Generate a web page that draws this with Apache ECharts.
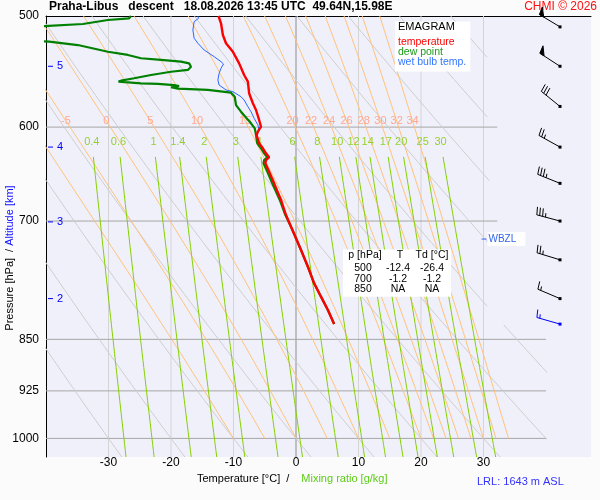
<!DOCTYPE html>
<html><head><meta charset="utf-8">
<script src="https://cdn.jsdelivr.net/npm/echarts@6/dist/echarts.min.js"></script>
<style>html,body{margin:0;padding:0;background:#fbfbfb}#c{width:600px;height:500px}</style>
</head><body><div id="c"></div>
<script>
// ---------------- data ----------------
const pressureTicks = [500, 600, 700, 850, 925, 1000];
const isobarLevels = [600, 700, 850, 925, 1000];
const isobarEndT = [32.2, 32.2, 40, 40, 40];
const isotherms = [-30, -20, -10, 0, 10, 20, 30];
const dryAdiabatT1000 = [-30, -20, -10, 0, 10, 20, 30, 40, 50, 60, 70, 80, 90, 100, 110];
const moistAdiabatThetaW = [-10, -5, 0, 5, 10, 15, 20, 22, 24, 26, 28, 30, 32, 34];
const moistLabels = [-5, 0, 5, 10, 15, 20, 22, 24, 26, 28, 30, 32, 34];
const mixingRatios = [0.4, 0.6, 1, 1.4, 2, 3, 4, 6, 8, 10, 12, 14, 17, 20, 25, 30];

const tempP = [500, 506.0, 515.8, 522.9, 530.2, 540.4, 550.8, 556.9, 567.6, 577.0, 583.4, 593.0, 599.6, 604.5, 607.8, 616.2, 621.2, 626.4, 630.5, 633.3, 636.7, 645.5, 658.0, 676.2, 693.1, 706.5, 720.1, 734.0, 754.5, 775.3, 792.5, 810.0, 828.8];
const tempT = [-12.4, -12.0, -11.7, -11.2, -10.1, -9.1, -8.3, -7.7, -7.5, -6.9, -6.4, -5.9, -5.6, -6.1, -6.3, -5.9, -5.3, -4.8, -4.3, -4.8, -4.9, -4.3, -3.5, -2.4, -1.6, -0.8, 0.0, 0.8, 1.9, 2.9, 4.0, 5.1, 6.1];

const dewP = [500, 501.9, 503.3, 506.6, 514.0, 521.5, 524.4, 530.2, 533.0, 535.9, 537.4, 538.9, 540.4, 543.4, 546.3, 547.9, 550.8, 553.8, 556.0, 556.9, 558.4, 559.0, 560.0, 560.9, 562.0, 563.3, 564.5, 567.0, 570.8, 578.7, 585.0, 591.4, 596.3, 601.2, 607.8, 616.2, 621.2, 626.4, 630.5, 633.3, 636.7, 645.5, 658.0, 676.2, 693.1, 706.5, 720.1, 734.0, 754.5, 775.3, 792.5, 810.0, 828.8];
const dewT = [-26.4, -26.7, -30.1, -34.1, -60.0, -39.5, -34.9, -30.1, -26.9, -24.8, -21.6, -18.4, -17.1, -16.8, -17.3, -20.0, -23.2, -25.9, -28.0, -28.4, -24.8, -22.1, -19.5, -18.7, -20.0, -18.9, -14.1, -10.4, -9.8, -9.6, -8.8, -7.9, -7.2, -6.6, -6.4, -6.2, -5.6, -5.1, -4.6, -5.1, -5.2, -4.6, -3.8, -2.6, -1.7, -0.8, 0.0, 0.8, 1.9, 2.9, 4.0, 5.1, 6.1];

const wbP = [500, 501.9, 504.7, 511.6, 518.6, 522.9, 528.7, 534.5, 538.9, 541.0, 544.8, 549.3, 555.4, 560.0, 564.5, 566.1, 570.8, 573.9, 580.2, 585.0, 591.4, 597.9, 602.8, 607.8, 616.2, 621.2, 626.4, 630.5, 633.3, 636.7, 645.5, 658.0, 676.2, 693.1, 706.5, 720.1, 734.0, 754.5, 775.3, 792.5, 810.0, 828.8];
const wbT = [-15.7, -15.6, -16.3, -16.5, -16.3, -15.7, -14.7, -13.1, -12.0, -11.6, -12.0, -12.3, -12.5, -12.3, -11.2, -10.1, -8.8, -8.3, -7.7, -7.2, -6.7, -6.1, -5.9, -6.3, -6.0, -5.4, -4.9, -4.4, -4.9, -5.0, -4.4, -3.6, -2.5, -1.6, -0.8, 0.0, 0.8, 1.9, 2.9, 4.0, 5.1, 6.1];

const altKm = [2, 3, 4, 5];
const altP = [795, 701, 620, 543];
const wbzlP = 721;

const barbP = [509, 543, 580, 620, 658, 700, 746, 795, 829];
const barbDir = [301, 303, 309, 299, 292, 285, 287, 293, 286];
const barbSpd = [50, 50, 30, 25, 35, 35, 25, 15, 15];

const tableP = ['500', '700', '850'];
const tableT = ['-12.4', '-1.2', 'NA'];
const tableTd = ['-26.4', '-1.2', 'NA'];

// ---------------- diagram geometry (thermodynamics) ----------------
const FONT = 'Liberation Sans, Arial, sans-serif';
const P_TOP = 500, P_BOT = 1031, T_MIN = -40, T_MAX = 40;

function dryT(t1000, p) { return (t1000 + 273.15) * Math.pow(p / 1000, 0.2857) - 273.15; }
function moistLapse(T, p) {
  const Tk = T + 273.15;
  const es = 6.112 * Math.exp(17.67 * T / (T + 243.5));
  const rs = 0.622 * es / (p - es);
  const Rd = 287.04, cp = 1005.7, Lv = 2.501e6, eps = 0.622;
  const b = (Rd * Tk + Lv * rs) / (cp + Lv * Lv * rs * eps / (Rd * Tk * Tk));
  return b / p;
}
function moistCurve(thw) {
  let T = thw, p = 1000; const pts = [[T, p]]; let labelT = null;
  const dp = -2;
  while (p > P_TOP) {
    const k1 = moistLapse(T, p);
    const k2 = moistLapse(T + k1 * dp, p + dp);
    T += 0.5 * (k1 + k2) * dp; p += dp;
    if (p % 10 === 0) pts.push([T, p]);
    if (p === 594) labelT = T;
  }
  return { pts, labelT };
}
function tdFromW(w, p) {
  const e = w * p / (622 + w); const g = Math.log(e / 6.112);
  return 243.5 * g / (17.67 - g);
}

const series = [];
function addLine(data, color, width, z) {
  series.push({ type: 'line', xAxisIndex: 0, yAxisIndex: 0, data, symbol: 'none', silent: true,
    animation: false, clip: true, z, lineStyle: { color, width }, emphasis: { disabled: true } });
}

// isotherms
isotherms.forEach(t => addLine([[t, P_TOP], [t, P_BOT]], t === 0 ? '#8c8c8c' : '#d4d4d4', 1, 1));
// isobars
isobarLevels.forEach((p, i) => addLine([[T_MIN, p], [isobarEndT[i], p]], '#a6a6a6', 1, 1));
// dry adiabats
dryAdiabatT1000.forEach(t0 => {
  let seg = [];
  for (let p = P_BOT; p >= P_TOP; p -= (p > 1000 ? 1 : 5)) {
    const T = dryT(t0, p);
    const visible = !(p < 830 && T > 31);
    if (visible) seg.push([T, p]);
    else if (seg.length) { if (seg.length > 1) addLine(seg, '#cdcdcd', 1, 1); seg = []; }
  }
  if (seg.length > 1) addLine(seg, '#cdcdcd', 1, 1);
});
// moist adiabats
const moistLabelT = {};
moistAdiabatThetaW.forEach(tw => {
  const c = moistCurve(tw);
  moistLabelT[tw] = c.labelT;
  addLine(c.pts, '#ffc27a', 1, 1);
});
// mixing ratio lines
const MIX_TOP = 630, MIX_LABEL_P = 615;
mixingRatios.forEach(w => {
  const pts = [];
  for (let p = P_BOT; p >= MIX_TOP; p -= (p > 1030 ? 1 : 10)) pts.push([tdFromW(w, p), p]);
  addLine(pts, '#86d000', 1, 1);
});

// labels of moist adiabats and mixing ratios
series.push({
  type: 'custom', xAxisIndex: 0, yAxisIndex: 0, silent: true, animation: false, z: 2,
  data: moistLabels.map(tw => [moistLabelT[tw], 594]),
  renderItem: (params, api) => {
    const c = api.coord([api.value(0), api.value(1)]);
    return { type: 'text', x: c[0], y: c[1], style: { text: String(moistLabels[params.dataIndex]),
      fill: '#ffa890', fontSize: 11, fontFamily: FONT, align: 'center', verticalAlign: 'middle' } };
  }
});
series.push({
  type: 'custom', xAxisIndex: 0, yAxisIndex: 0, silent: true, animation: false, z: 2,
  data: mixingRatios.map(w => [tdFromW(w, MIX_LABEL_P), MIX_LABEL_P]),
  renderItem: (params, api) => {
    const c = api.coord([api.value(0), api.value(1)]);
    return { type: 'text', x: c[0], y: c[1], style: { text: String(mixingRatios[params.dataIndex]),
      fill: '#96d030', fontSize: 11, fontFamily: FONT, align: 'center', verticalAlign: 'middle' } };
  }
});

// soundings
addLine(wbP.map((p, i) => [wbT[i], p]), '#2a66ff', 1, 4);
addLine(dewP.map((p, i) => [dewT[i], p]), '#008000', 2.2, 5);
addLine(tempP.map((p, i) => [tempT[i], p]), '#ff0000', 2.4, 6);

// altitude ticks
series.push({
  type: 'custom', xAxisIndex: 0, yAxisIndex: 0, silent: true, animation: false, z: 8,
  data: altP.map(p => [T_MIN, p]),
  renderItem: (params, api) => {
    const c = api.coord([api.value(0), api.value(1)]);
    return { type: 'group', children: [
      { type: 'line', shape: { x1: c[0] + 2, y1: c[1], x2: c[0] + 7, y2: c[1] }, style: { stroke: '#0000ff', lineWidth: 1 } },
      { type: 'text', x: c[0] + 11, y: c[1], style: { text: String(altKm[params.dataIndex]), fill: '#0000ff',
        fontSize: 11, fontFamily: FONT, align: 'left', verticalAlign: 'middle' } }
    ] };
  }
});
// WBZL
series.push({
  type: 'custom', xAxisIndex: 0, yAxisIndex: 0, silent: true, animation: false, z: 8,
  data: [[30, wbzlP]],
  renderItem: (params, api) => {
    const c = api.coord([api.value(0), api.value(1)]);
    return { type: 'group', children: [
      { type: 'line', shape: { x1: c[0] - 2, y1: c[1], x2: c[0] + 3, y2: c[1] }, style: { stroke: '#3366ee', lineWidth: 1 } },
      { type: 'text', x: c[0] + 4, y: c[1], style: { text: 'WBZL', fill: '#3366ee', fontSize: 10, fontFamily: FONT,
        align: 'left', verticalAlign: 'middle', backgroundColor: '#ffffff', padding: [2, 9, 2, 1] } }
    ] };
  }
});
// wind barbs
series.push({
  type: 'custom', xAxisIndex: 2, yAxisIndex: 1, silent: true, animation: false, z: 8, clip: false,
  data: barbP.map((p, i) => [0, p, barbDir[i], barbSpd[i]]),
  renderItem: (params, api) => {
    const c = api.coord([api.value(0), api.value(1)]);
    const dir = api.value(2), spd = api.value(3);
    const x0 = c[0] + 14, y0 = c[1];
    const r = dir * Math.PI / 180, ux = Math.sin(r), uy = -Math.cos(r);
    const rf = (dir + 80) * Math.PI / 180, fx = Math.sin(rf), fy = -Math.cos(rf);
    const L = 24, FL = 8, SP = 3;
    const col = params.dataIndex === barbP.length - 1 ? '#0000ff' : '#000000';
    const S = d => [x0 + ux * d, y0 + uy * d];
    const ch = [];
    const e = S(L);
    ch.push({ type: 'line', shape: { x1: x0, y1: y0, x2: e[0], y2: e[1] }, style: { stroke: col, lineWidth: 1 } });
    ch.push({ type: 'rect', shape: { x: x0 - 1.5, y: y0 - 1.5, width: 3, height: 3 }, style: { fill: col } });
    const n50 = Math.floor(spd / 50); const rem = spd - 50 * n50;
    const n10 = Math.floor(rem / 10); const n5 = (rem % 10) >= 5 ? 1 : 0;
    let pos = L;
    for (let i = 0; i < n50; i++) {
      const a = S(pos), b = S(pos - 5);
      ch.push({ type: 'polygon', shape: { points: [a, [a[0] + fx * FL, a[1] + fy * FL], b] }, style: { fill: col, stroke: col, lineWidth: 1 } });
      pos -= 6;
    }
    for (let i = 0; i < n10; i++) {
      const a = S(pos);
      ch.push({ type: 'line', shape: { x1: a[0], y1: a[1], x2: a[0] + fx * FL, y2: a[1] + fy * FL }, style: { stroke: col, lineWidth: 1 } });
      pos -= SP;
    }
    if (n5) {
      if (n50 + n10 === 0) pos -= SP;
      const a = S(pos);
      ch.push({ type: 'line', shape: { x1: a[0], y1: a[1], x2: a[0] + fx * FL / 2, y2: a[1] + fy * FL / 2 }, style: { stroke: col, lineWidth: 1 } });
    }
    return { type: 'group', children: ch };
  }
});

// ---------------- texts ----------------
const tableText = '{ha|p [hPa]}{hb|T}{hc|Td [°C]}\n' +
  tableP.map((p, i) => '{a|' + p + '}{b|' + tableT[i] + '}{c|' + tableTd[i] + '}').join('\n');
const rowStyle = { fontSize: 10.5, lineHeight: 10.5, color: '#000', fontFamily: FONT, fontWeight: 'normal', align: 'center' };
const headStyle = { fontSize: 10.5, lineHeight: 16, color: '#000', fontFamily: FONT, fontWeight: 'normal', align: 'center' };
const N = 'normal';

const option = {
  backgroundColor: '#fbfbfb',
  animation: false,
  textStyle: { fontFamily: FONT },
  title: [
    { text: 'Praha-Libus   descent   18.08.2026 13:45 UTC  49.64N,15.98E', left: 49, top: 0, padding: 0,
      textStyle: { fontSize: 12, fontWeight: 'bold', color: '#000', lineHeight: 14, fontFamily: FONT } },
    { text: 'CHMI © 2026', right: 3, top: 0, padding: 0,
      textStyle: { fontSize: 12, fontWeight: N, color: '#ff1010', lineHeight: 14, fontFamily: FONT } },
    { text: '{h|EMAGRAM}\n{t|temperature}\n{d|dew point}\n{w|wet bulb temp.}', left: 395, top: 17,
      padding: [0, 4, 4, 3], backgroundColor: '#ffffff',
      textStyle: { fontWeight: N, rich: {
        h: { fontSize: 11, lineHeight: 20, color: '#000', fontFamily: FONT, fontWeight: N },
        t: { fontSize: 10.5, lineHeight: 10, color: '#ff0000', fontFamily: FONT, fontWeight: N },
        d: { fontSize: 10.5, lineHeight: 10, color: '#1a9a1a', fontFamily: FONT, fontWeight: N },
        w: { fontSize: 10.5, lineHeight: 10, color: '#3377ff', fontFamily: FONT, fontWeight: N } } } },
    { text: tableText, left: 343, top: 247, padding: [0, 0, 2, 0], backgroundColor: '#ffffff',
      textStyle: { fontWeight: N, rich: {
        ha: Object.assign({}, headStyle, { width: 40 }),
        hb: Object.assign({}, headStyle, { width: 30 }),
        hc: Object.assign({}, headStyle, { width: 34 }),
        a: Object.assign({}, rowStyle, { width: 40 }),
        b: Object.assign({}, rowStyle, { width: 30 }),
        c: Object.assign({}, rowStyle, { width: 38 }) } } },
    { text: '{a|Temperature [°C]}{s|/}{b|Mixing ratio [g/kg]}', left: 197, top: 472, padding: 0,
      textStyle: { fontWeight: N, rich: {
        a: { fontSize: 11, lineHeight: 14, color: '#000', fontFamily: FONT, fontWeight: N },
        s: { fontSize: 11, lineHeight: 14, color: '#000', fontFamily: FONT, fontWeight: N, padding: [0, 12, 0, 6] },
        b: { fontSize: 11, lineHeight: 14, color: '#5ccc18', fontFamily: FONT, fontWeight: N } } } },
    { text: 'LRL: 1643 m ASL', left: 477, top: 475, padding: 0,
      textStyle: { fontSize: 11, fontWeight: N, lineHeight: 14, color: '#3333ff', fontFamily: FONT } }
  ],
  grid: [
    { left: 46, top: 16, width: 500, height: 441, show: true, backgroundColor: '#f0f0fb', borderWidth: 0, containLabel: false, outerBoundsMode: 'none' },
    { left: 546, top: 16, width: 45, height: 441, show: true, backgroundColor: '#f0f0fb', borderWidth: 0, containLabel: false, outerBoundsMode: 'none' }
  ],
  xAxis: [
    { gridIndex: 0, type: 'value', min: T_MIN, max: T_MAX, interval: 10, position: 'bottom',
      axisLine: { show: false }, axisTick: { show: false }, splitLine: { show: false },
      axisLabel: { showMinLabel: false, showMaxLabel: false, color: '#000', fontSize: 12, margin: 0, fontFamily: FONT } },
    { gridIndex: 0, type: 'value', min: T_MIN, max: T_MAX, position: 'top',
      axisLine: { show: true, onZero: false, lineStyle: { color: '#000', width: 1 } },
      axisTick: { show: false }, axisLabel: { show: false }, splitLine: { show: false } },
    { gridIndex: 1, type: 'value', min: 0, max: 1, position: 'top',
      axisLine: { show: true, onZero: false, lineStyle: { color: '#000', width: 1 } },
      axisTick: { show: false }, axisLabel: { show: false }, splitLine: { show: false } }
  ],
  yAxis: [
    { gridIndex: 0, type: 'log', logBase: 10, min: P_TOP, max: P_BOT, inverse: true,
      axisLine: { show: true, onZero: false, lineStyle: { color: '#000', width: 1 } },
      axisTick: { show: false }, splitLine: { show: false }, minorSplitLine: { show: false },
      axisLabel: { customValues: pressureTicks, formatter: v => String(Math.round(v)), color: '#000', fontSize: 12, margin: 7, fontFamily: FONT },
      name: '{a|Pressure [hPa]}{s|/}{b|Altitude [km]}', nameLocation: 'middle', nameGap: 31, nameRotate: 90,
      nameMoveOverlap: false,
      nameTextStyle: { fontWeight: N, rich: {
        a: { fontSize: 11, color: '#000', fontFamily: FONT, fontWeight: N },
        s: { fontSize: 11, color: '#000', fontFamily: FONT, fontWeight: N, padding: [0, 3, 0, 6] },
        b: { fontSize: 11, color: '#1010ff', fontFamily: FONT, fontWeight: N, padding: [0, 43, 0, 0] } } } },
    { gridIndex: 1, type: 'log', logBase: 10, min: P_TOP, max: P_BOT, inverse: true, show: false }
  ],
  series
};

const chart = echarts.init(document.getElementById('c'), null, { renderer: 'canvas' });
chart.setOption(option);
</script>
</body></html>
